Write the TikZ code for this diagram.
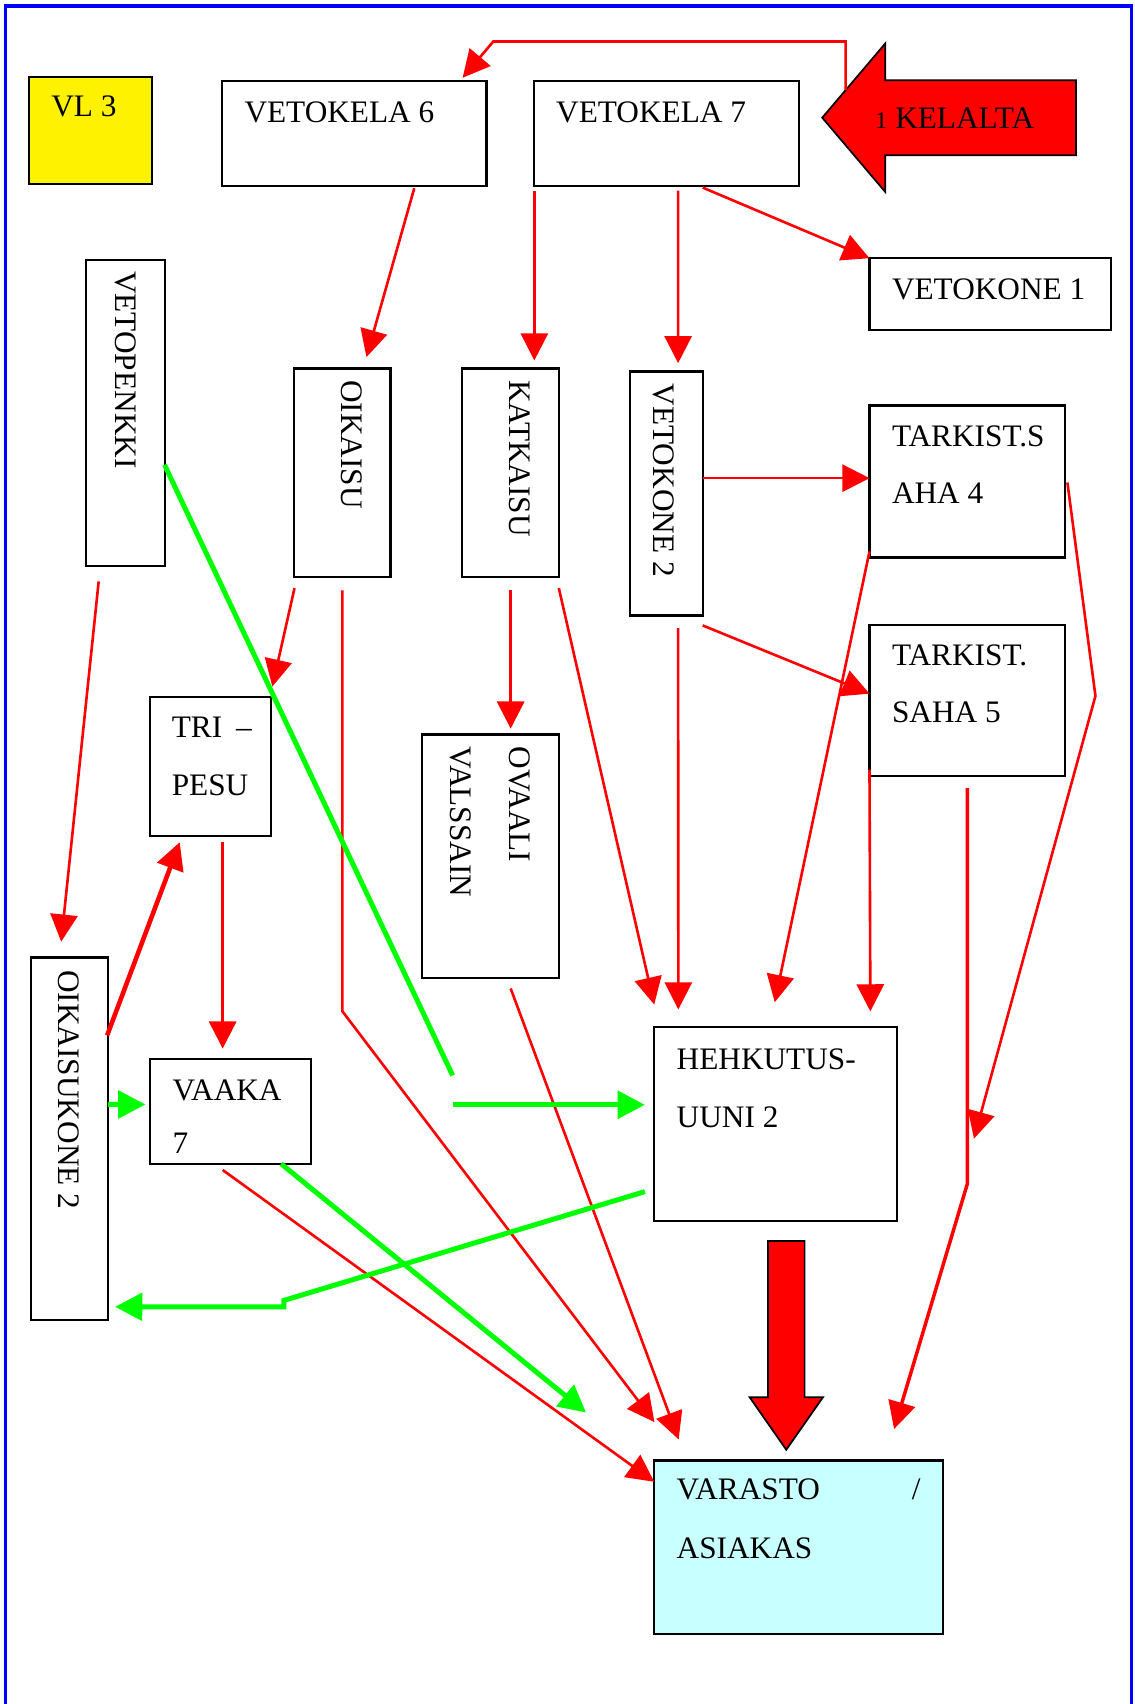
\documentclass[tikz,border=0pt]{standalone}
\usepackage{xcolor}
\usepackage{fontspec}
\setmainfont{Liberation Serif}
\usepackage{tikz}
\usetikzlibrary{arrows.meta,calc,fit}

\definecolor{varastocyan}{RGB}{200,255,255}

\begin{document}
\begin{tikzpicture}[x=0.5pt,y=0.5pt,yscale=-1,xscale=1,
  box/.style={draw=black, line width=1pt, inner sep=0pt, outer sep=0pt},
  lbl/.style={inner sep=0pt, anchor=base west, font=\fontsize{14.4pt}{17pt}\selectfont},
  vlbl/.style={lbl, rotate=-90},
  redline/.style={draw=red, line width=1.2pt, -{Triangle[length=12.5pt,width=12.5pt]}},
  greenline/.style={draw=green, line width=2.3pt, -{Triangle[length=12.5pt,width=12.5pt]}},
  blockarrow/.style={draw=black, line width=0.8pt, fill=red, line join=miter}]
\useasboundingbox (0,0) rectangle (1044,1568);

%Frame
\draw [blue, line width=1.5pt] (5.3,1575) -- (5.3,5.5) -- (1041.5,5.5) -- (1041.5,1575) ;

%Shape: Rectangle
\node [box, fill=yellow, fit={(26.4,70.5) (140,169)}] (vl3) {};
%Shape: Rectangle
\node [box, fit={(204.2,74.2) (447.7,170.8)}] (vk6) {};
%Shape: Rectangle
\node [box, fit={(491,74.2) (735,170.8)}] (vk7) {};
%Shape: Rectangle
\node [box, fit={(800.1,237.6) (1022,303.5)}] (vk1) {};
%Shape: Rectangle
\node [box, fit={(79.2,239.1) (152,521.2)}] (vpenkki) {};
%Shape: Rectangle
\node [box, fit={(270.7,339.1) (359.4,531.3)}] (oik) {};
%Shape: Rectangle
\node [box, fit={(425.2,339.1) (514.2,531.3)}] (katk) {};
%Shape: Rectangle
\node [box, fit={(579.8,341.9) (646.6,566.3)}] (vk2) {};
%Shape: Rectangle
\node [box, fit={(800.1,373.2) (979.9,513)}] (ts4) {};
%Shape: Rectangle
\node [box, fit={(800.1,574.9) (979.9,714.4)}] (ts5) {};
%Shape: Rectangle
\node [box, fit={(138,641.5) (249.2,769.6)}] (tripesu) {};
%Shape: Rectangle
\node [box, fit={(388.2,675.8) (514.2,900)}] (ovaali) {};
%Shape: Rectangle
\node [box, fit={(28.2,881) (99.3,1214.6)}] (oik2) {};
%Shape: Rectangle
\node [box, fit={(138,974.4) (285.8,1070.9)}] (vaaka) {};
%Shape: Rectangle
\node [box, fit={(601.7,945.4) (825.4,1123.8)}] (hehk) {};
%Shape: Rectangle
\node [box, fill=varastocyan, fit={(601.7,1343.9) (867.5,1503.3)}] (varasto) {};

%Shape: Left Arrow
\draw [blockarrow] (756.6,108.3) -- coordinate[pos=0.37] (kelaltain) (814.6,40) -- (814.6,73.8) -- (990,73.8) -- (990,142.8) -- (814.6,142.8) -- (814.6,176.6) -- cycle ;
%Shape: Down Arrow
\draw [blockarrow] ($(hehk.south west)+(105,18.2)$) -- ++(33.7,0) -- ++(0,143.7) -- ++(16.9,0) -- ($(varasto.north west)+(121.8,-9.9)$) -- ++(-33.7,-48.3) -- ++(16.9,0) -- cycle ;

%Straight Lines
\draw [redline] (kelaltain) -- ++(0,-44.8) -- ++(-324.2,0) -- ($(vk6.north east)+(-22,-2.6)$) ;
%Straight Lines
\draw [redline] ($(vk6.south west)+(177,2.4)$) -- ($(oik.north west)+(66.5,-10.5)$) ;
%Straight Lines
\draw [redline] ($(vk7.south west)+(0.7,4.6)$) -- ($(katk.north west)+(66.5,-7.4)$) ;
%Straight Lines
\draw [redline] ($(vk7.south west)+(133,4.6)$) -- ($(vk2.north west)+(44.2,-7.7)$) ;
%Straight Lines
\draw [redline] ($(vk7.south west)+(155.6,1.8)$) -- (vk1.north west) ;
%Straight Lines
\draw [redline] ($(vk2.north east)+(0,98.1)$) -- ($(ts4.north west)+(0,66.8)$) ;
%Straight Lines
\draw [redline] ($(vk2.south east)+(0,9.2)$) -- ($(ts5.north west)+(0,63.4)$) ;
%Straight Lines
\draw [redline] ($(vk2.south west)+(44.2,11.6)$) -- ($(hehk.north west)+(22.5,-16.5)$) ;
%Straight Lines
\draw [redline] ($(katk.south east)+(0,9.8)$) -- ($(hehk.north west)+(0.3,-21)$) ;
%Straight Lines
\draw [redline] ($(katk.south west)+(44.7,12)$) -- ($(ovaali.north west)+(81.7,-5.3)$) ;
%Straight Lines
\draw [redline] ($(oik.south west)+(0.3,9.9)$) -- ($(tripesu.north east)+(1.4,-9.7)$) ;
%Straight Lines
\draw [redline] ($(oik.south west)+(44.3,12)$) -- ++(0,387.2) -- ($(varasto.north west)+(0.5,-35.3)$) ;
%Straight Lines
\draw [redline] ($(ovaali.south west)+(81.7,9.6)$) -- ($(varasto.north west)+(22.8,-19.4)$) ;
%Straight Lines
\draw [redline] ($(vpenkki.south west)+(11.6,13.8)$) -- ($(oik2.north west)+(28.1,-14.5)$) ;
%Straight Lines
\draw [redline, line width=2.1pt] ($(oik2.north east)+(-0.7,71.7)$) -- ($(tripesu.south west)+(27.4,5.4)$) ;
%Straight Lines
\draw [redline] ($(tripesu.south west)+(66.9,5.4)$) -- ($(vaaka.north west)+(66.9,-9.5)$) ;
%Straight Lines
\draw [redline] ($(vaaka.south west)+(66.9,5.7)$) -- ($(varasto.north west)+(0.3,19.6)$) ;
%Straight Lines
\draw [redline] ($(ts4.south west)+(0,-5.6)$) -- ($(hehk.north west)+(111.2,-23.2)$) ;
%Straight Lines
\draw [redline] ($(ts5.south west)+(0,-6.2)$) -- ($(hehk.north west)+(199.2,-14.7)$) ;
%Straight Lines
\draw [redline] ($(ts4.north east)+(2.3,70.8)$) -- ($(ts5.north east)+(28.1,65.5)$) -- ($(hehk.north east)+(70.8,102.4)$) ;
%Straight Lines
\draw [redline, line width=1.6pt] ($(ts5.south west)+(90.1,10.9)$) -- ++(0,363.8) -- ($(varasto.north east)+(-44.8,-28.9)$) ;

%Straight Lines
\draw [greenline, -] ($(vpenkki.north east)+(-0.6,188.6)$) -- ($(hehk.north west)+(-185.2,44.2)$) ;
%Straight Lines
\draw [greenline] ($(hehk.north west)+(-184.6,71.2)$) -- ($(hehk.north west)+(-8.3,71.2)$) ;
%Straight Lines
\draw [greenline] ($(oik2.north east)+(0,135.3)$) -- ($(vaaka.north west)+(-4.2,41.9)$) ;
%Straight Lines
\draw [greenline] ($(vaaka.south west)+(120.7,0)$) -- ($(varasto.north west)+(-62.4,-44.1)$) ;
%Straight Lines
\draw [greenline] ($(hehk.south west)+(-8.3,-27.3)$) -- ($(oik2.south east)+(162,-18)$) -- ++(0,6) -- ($(oik2.south east)+(6.6,-12.1)$) ;

% Text Node
\draw (46.8,107.3) node [lbl] (vl3txt) {VL 3};
% Text Node
\draw (224.6,112.5) node [lbl] (vk6txt) {VETOKELA 6};
% Text Node
\draw (511.4,112.5) node [lbl] (vk7txt) {VETOKELA 7};
% Text Node
\draw (805.2,118) node [lbl] (kelalta) {{\fontsize{11pt}{13pt}\selectfont 1} KELALTA};
% Text Node
\draw (820.4,276) node [lbl] (vk1txt) {VETOKONE 1};
% Text Node
\draw (106.4,249) node [vlbl] (vpenkkitxt) {VETOPENKKI};
% Text Node
\draw (314.1,349.5) node [vlbl] (oiktxt) {OIKAISU};
% Text Node
\draw (468.9,349.5) node [vlbl] (katktxt) {KATKAISU};
% Text Node
\draw (601.4,352.6) node [vlbl] (vk2txt) {VETOKONE 2};
% Text Node
\draw (820.4,410.9) node [lbl] (ts4txt) {TARKIST.S};
\draw (820.4,463.6) node [lbl] (ts4txtb) {AHA 4};
% Text Node
\draw (820.4,612.8) node [lbl] (ts5txt) {TARKIST.};
\draw (820.4,664.7) node [lbl] (ts5txtb) {SAHA 5};
% Text Node
\draw (157.7,678.9) node [lbl] (tripesutxt) {TRI\hspace{6.4pt}–};
\draw (157.7,732.3) node [lbl] (tripesutxtb) {PESU};
% Text Node
\draw (468.6,686.5) node [vlbl] (ovaalitxt) {OVAALI};
\draw (414.9,686.5) node [vlbl] (ovaalitxtb) {VALSSAIN};
% Text Node
\draw (53.6,892.4) node [vlbl] (oik2txt) {OIKAISUKONE 2};
% Text Node
\draw (158.4,1012.5) node [lbl] (vaakatxt) {VAAKA};
\draw (158.4,1061.3) node [lbl] (vaakatxtb) {7};
% Text Node
\draw (622.3,983.8) node [lbl] (hehktxt) {HEHKUTUS-};
\draw (622.3,1037.5) node [lbl] (hehktxtb) {UUNI 2};
% Text Node
\draw (622.3,1380.2) node [lbl] (varastotxt) {VARASTO\hspace{42.3pt}/};
\draw (622.3,1433.9) node [lbl] (varastotxtb) {ASIAKAS};
\end{tikzpicture}
\end{document}
